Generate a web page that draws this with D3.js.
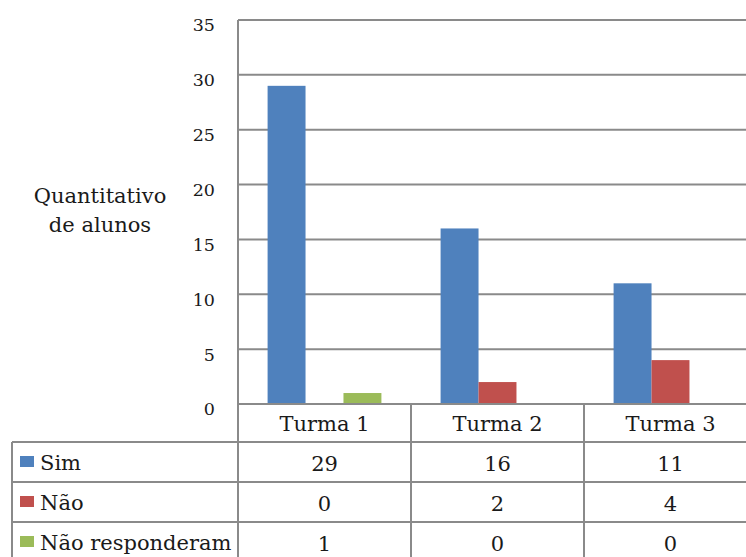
<!DOCTYPE html>
<html>
<head>
<meta charset="utf-8">
<script src="https://cdn.jsdelivr.net/npm/d3@7"></script>
<style>
  html, body { margin: 0; padding: 0; background: #fff; }
  svg { display: block; }
  text { font-family: "DejaVu Serif", "Liberation Serif", serif; fill: #1a1a1a; }
</style>
</head>
<body>
<svg id="chart" width="746" height="557"></svg>
<script>
// Turmas (categories) and answers per series
const categories = ["Turma 1", "Turma 2", "Turma 3"];
const seriesNames = ["Sim", "Não", "Não responderam"];
const sim = [29, 16, 11];
const nao = [0, 2, 4];
const naoResponderam = [1, 0, 0];
const yTicks = [0, 5, 10, 15, 20, 25, 30, 35];
const colors = ["#4f81bd", "#c0504d", "#9bbb59"];

const seriesValues = [sim, nao, naoResponderam];

const svg = d3.select("#chart");
const W = 746, H = 557;

// plot geometry
const plotLeft = 238, plotTop = 20, plotBottom = 404;
const catWidth = 173;
const rowH = 40;
const headerBottom = 442;
const legendLeft = 12;
const gridColor = "#8a8a8a";

const x = d3.scaleBand()
  .domain(categories)
  .range([plotLeft, plotLeft + catWidth * categories.length])
  .paddingInner(0).paddingOuter(0);

const x1 = d3.scaleBand()
  .domain(seriesNames)
  .range([0, x.bandwidth()])
  .paddingInner(0)
  .paddingOuter(0.78);

const y = d3.scaleLinear().domain([0, 35]).range([plotBottom, plotTop]);

// horizontal gridlines
svg.append("g")
  .selectAll("line")
  .data(yTicks.filter(t => t > 0))
  .join("line")
  .attr("x1", plotLeft).attr("x2", W)
  .attr("y1", d => y(d)).attr("y2", d => y(d))
  .attr("stroke", gridColor).attr("stroke-width", 2);

// y tick labels
const yAxis = d3.axisLeft(y).tickValues(yTicks).tickSize(0).tickPadding(0);
const gy = svg.append("g").attr("transform", `translate(${plotLeft - 23},0)`).call(yAxis);
gy.select(".domain").remove();
gy.selectAll("text")
  .attr("font-size", 17.5)
  .attr("font-family", "DejaVu Serif, serif")
  .attr("fill", "#1a1a1a")
  .attr("dy", "0.62em");

// bars
const rows = seriesNames.map((name, i) => ({ name, color: colors[i], values: seriesValues[i] }));
svg.append("g")
  .selectAll("g")
  .data(rows)
  .join("g")
  .attr("fill", d => d.color)
  .selectAll("rect")
  .data(d => d.values.map((v, j) => ({ name: d.name, cat: categories[j], v })))
  .join("rect")
  .attr("x", d => x(d.cat) + x1(d.name))
  .attr("width", x1.bandwidth())
  .attr("y", d => y(d.v))
  .attr("height", d => y(0) - y(d.v));

// y axis title
const title = svg.append("text")
  .attr("text-anchor", "middle")
  .attr("font-size", 21);
title.append("tspan").attr("x", 100).attr("y", 203).text("Quantitativo");
title.append("tspan").attr("x", 100).attr("y", 232).text("de alunos");

// data table grid
const tableG = svg.append("g").attr("stroke", gridColor).attr("stroke-width", 2);
// category axis line / table top
tableG.append("line").attr("x1", plotLeft).attr("x2", W).attr("y1", plotBottom).attr("y2", plotBottom);
// row separators
const rowLines = seriesNames.map((_, i) => headerBottom + i * rowH);
tableG.selectAll(".row").data(rowLines).join("line")
  .attr("x1", legendLeft).attr("x2", W)
  .attr("y1", d => d).attr("y2", d => d);
// value axis line
tableG.append("line").attr("x1", plotLeft).attr("x2", plotLeft).attr("y1", plotTop).attr("y2", H);
// category separators
tableG.selectAll(".sep").data(categories.slice(1)).join("line")
  .attr("x1", d => x(d)).attr("x2", d => x(d))
  .attr("y1", plotBottom).attr("y2", H);
// legend column left edge
tableG.append("line").attr("x1", legendLeft).attr("x2", legendLeft).attr("y1", headerBottom).attr("y2", H);

// category header labels
svg.append("g").selectAll("text").data(categories).join("text")
  .attr("x", d => x(d) + x.bandwidth() / 2)
  .attr("y", 431)
  .attr("text-anchor", "middle")
  .attr("font-size", 21)
  .text(d => d);

// legend keys and names
const leg = svg.append("g").selectAll("g").data(rows).join("g")
  .attr("transform", (d, i) => `translate(0,${headerBottom + i * rowH})`);
leg.append("rect").attr("x", 20).attr("y", 14).attr("width", 14).attr("height", 11)
  .attr("fill", d => d.color);
leg.append("text").attr("x", 40).attr("y", 28).attr("font-size", 21).text(d => d.name);

// values
leg.selectAll(".val").data(d => d.values.map((v, j) => ({ v, cat: categories[j] })))
  .join("text")
  .attr("x", d => x(d.cat) + x.bandwidth() / 2)
  .attr("y", 29)
  .attr("text-anchor", "middle")
  .attr("font-size", 21)
  .text(d => d.v);
</script>
</body>
</html>
